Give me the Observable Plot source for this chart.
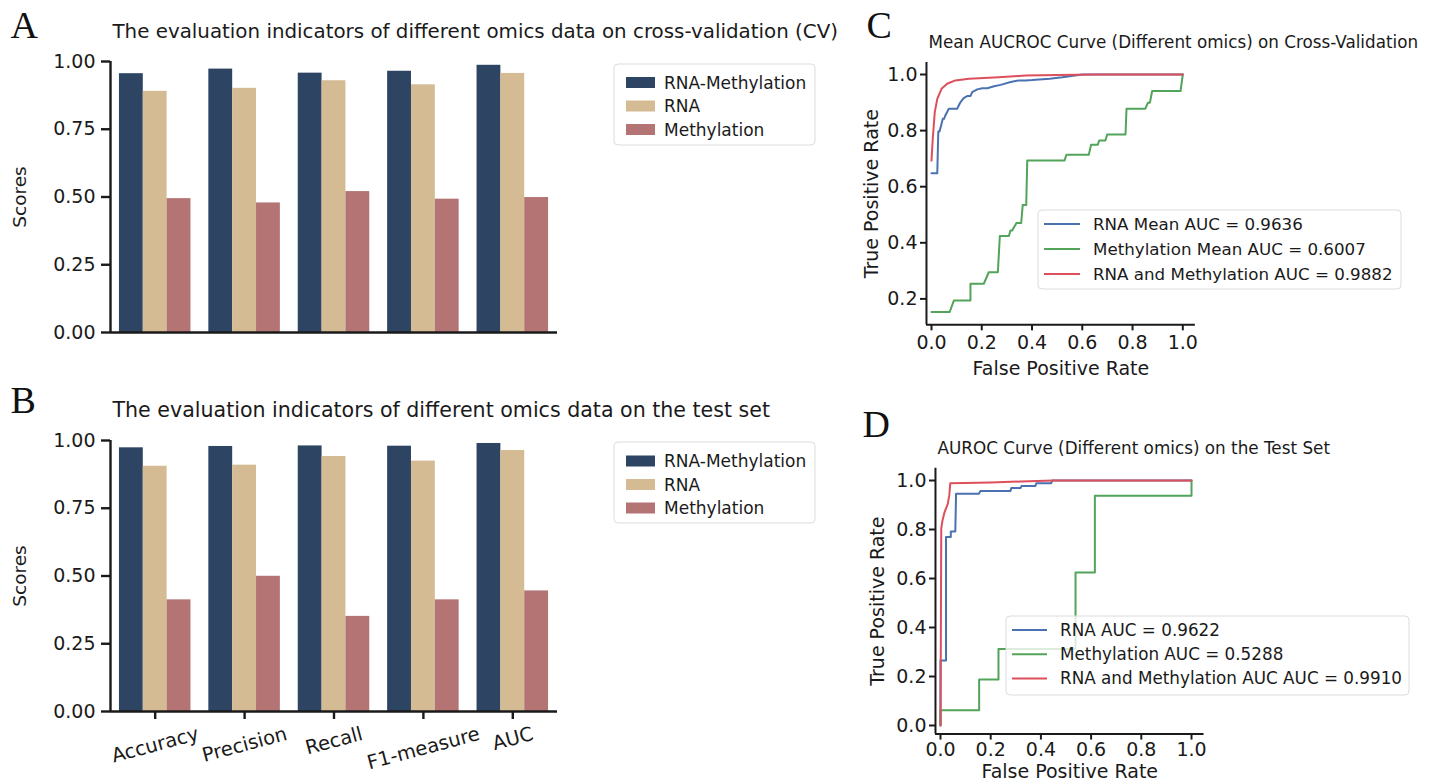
<!DOCTYPE html>
<html><head><meta charset="utf-8">
<script src="https://cdn.jsdelivr.net/npm/d3@7"></script>
<script src="https://cdn.jsdelivr.net/npm/@observablehq/plot@0.6"></script>
<style>
body{margin:0;background:#fff;}
#fig{position:relative;width:1433px;height:784px;overflow:hidden;background:#fff;font-family:"DejaVu Sans";}
#fig > svg{position:absolute;}
</style></head><body><div id="fig"></div>
<script>
// ---------- data ----------
const metrics = ["Accuracy", "Precision", "Recall", "F1-measure", "AUC"];
const seriesNames = ["RNA-Methylation", "RNA", "Methylation"];
const barColors = ["#2e4463", "#d4bb94", "#b47474"];
const cvRnaMeth = [0.955, 0.972, 0.957, 0.964, 0.986];
const cvRna = [0.890, 0.901, 0.929, 0.914, 0.956];
const cvMeth = [0.494, 0.478, 0.520, 0.492, 0.498];
const testRnaMeth = [0.973, 0.978, 0.980, 0.979, 0.989];
const testRna = [0.905, 0.909, 0.941, 0.924, 0.963];
const testMeth = [0.412, 0.499, 0.351, 0.412, 0.445];
const barTicks = [0, 0.25, 0.5, 0.75, 1.0];

const rocColors = ["#4a72b0", "#52a45a", "#dc4f5b"];
const cvRnaFpr = [0, 0.023, 0.027, 0.032, 0.040, 0.045, 0.050, 0.055, 0.069, 0.102, 0.115, 0.128, 0.142, 0.155, 0.162, 0.182, 0.202, 0.222, 0.249, 0.275, 0.315, 0.348, 0.375, 0.40, 0.47, 0.52, 0.60, 1.0];
const cvRnaTpr = [0.648, 0.648, 0.797, 0.797, 0.824, 0.842, 0.842, 0.854, 0.878, 0.878, 0.901, 0.916, 0.923, 0.923, 0.937, 0.947, 0.951, 0.951, 0.958, 0.963, 0.973, 0.979, 0.979, 0.980, 0.985, 0.990, 1.0, 1.0];
const cvMethFpr = [0, 0.072, 0.089, 0.155, 0.155, 0.208, 0.228, 0.264, 0.272, 0.308, 0.314, 0.321, 0.338, 0.357, 0.363, 0.377, 0.381, 0.529, 0.537, 0.626, 0.635, 0.662, 0.667, 0.692, 0.699, 0.772, 0.776, 0.851, 0.861, 0.869, 0.878, 0.991, 1.0];
const cvMethTpr = [0.153, 0.153, 0.194, 0.194, 0.254, 0.254, 0.295, 0.295, 0.424, 0.424, 0.444, 0.444, 0.471, 0.471, 0.535, 0.535, 0.693, 0.693, 0.714, 0.714, 0.750, 0.750, 0.765, 0.765, 0.786, 0.786, 0.878, 0.878, 0.899, 0.899, 0.941, 0.941, 1.0];
const cvBothFpr = [0, 0.005, 0.013, 0.023, 0.040, 0.062, 0.095, 0.149, 0.268, 0.374, 0.50, 0.65, 1.0];
const cvBothTpr = [0.693, 0.771, 0.866, 0.913, 0.949, 0.967, 0.979, 0.985, 0.990, 0.996, 0.998, 1.0, 1.0];

const testRnaFpr = [0, 0, 0.022, 0.022, 0.041, 0.041, 0.059, 0.062, 0.153, 0.159, 0.279, 0.282, 0.319, 0.323, 0.378, 0.382, 0.441, 0.445, 1.0];
const testRnaTpr = [0, 0.265, 0.265, 0.769, 0.769, 0.792, 0.792, 0.946, 0.946, 0.957, 0.957, 0.969, 0.969, 0.978, 0.978, 0.989, 0.989, 1.0, 1.0];
const testMethFpr = [0, 0, 0.154, 0.154, 0.231, 0.231, 0.538, 0.538, 0.615, 0.615, 1.0, 1.0];
const testMethTpr = [0, 0.0625, 0.0625, 0.1875, 0.1875, 0.3125, 0.3125, 0.625, 0.625, 0.9375, 0.9375, 1.0];
const testBothFpr = [0, 0.003, 0.008, 0.016, 0.029, 0.035, 0.039, 0.20, 0.32, 0.45, 1.0];
const testBothTpr = [0, 0.804, 0.837, 0.870, 0.905, 0.939, 0.989, 0.992, 0.996, 1.0, 1.0];

const rocXTicks = [0, 0.2, 0.4, 0.6, 0.8, 1.0];
const rocYTicksC = [0.2, 0.4, 0.6, 0.8, 1.0];
const rocYTicksD = [0, 0.2, 0.4, 0.6, 0.8, 1.0];
const legendC = ["RNA Mean AUC = 0.9636", "Methylation Mean AUC = 0.6007", "RNA and Methylation AUC = 0.9882"];
const legendD = ["RNA AUC = 0.9622", "Methylation AUC = 0.5288", "RNA and Methylation AUC AUC = 0.9910"];
const titleA = "The evaluation indicators of different omics data on cross-validation (CV)";
const titleB = "The evaluation indicators of different omics data on the test set";
const titleC = "Mean AUCROC Curve (Different omics) on Cross-Validation";
const titleD = "AUROC Curve (Different omics) on the Test Set";

// ---------- helpers ----------
const FONT = "DejaVu Sans";
const INK = "#1a1a1a";
const ctx = document.createElement("canvas").getContext("2d");
function textWidth(t, fs) { ctx.font = `${fs}px "${FONT}"`; return ctx.measureText(t).width; }
function fitSize(t, w) { return 100 * w / textWidth(t, 100); }
const fig = document.getElementById("fig");
function place(el, left, top) { el.style.left = left + "px"; el.style.top = top + "px"; fig.appendChild(el); }
const baseStyle = {fontFamily: FONT, fontSize: "19px", color: INK, background: "transparent", overflow: "visible"};

function barPanel(vals, o) {
  const rows = metrics.flatMap((m, i) => seriesNames.map((s, j) => ({
    metric: m, series: s, value: vals[j][i],
    x1: i - 0.4 + j * 0.8 / 3, x2: i - 0.4 + (j + 1) * 0.8 / 3
  })));
  const marks = [
    Plot.rectY(rows, {x1: "x1", x2: "x2", y1: 0, y2: "value", fill: "series"}),
    Plot.axisY(barTicks, {tickSize: 9, tickPadding: 6, strokeWidth: 2.4, stroke: INK, fill: INK, tickFormat: d3.format(".2f"), fontSize: 19, label: null}),
    Plot.ruleX([-0.5], {stroke: INK, strokeWidth: 2.4}),
    Plot.ruleY([0], {stroke: INK, strokeWidth: 2.4}),
    Plot.text(["Scores"], {frameAnchor: "left", textAnchor: "middle", lineAnchor: "middle", dx: -90, rotate: -90, fontSize: 18.5, fill: INK}),
    Plot.text([o.title], {frameAnchor: "top-left", textAnchor: "start", lineAnchor: "middle", dx: 2, dy: o.titleDy, fontSize: fitSize(o.title, o.titleW), fill: INK}),
    Plot.text([o.letter], {frameAnchor: "top-left", textAnchor: "start", lineAnchor: "middle", dx: -100, dy: o.letterDy, fontSize: 38, fontFamily: "Liberation Serif", fill: "#111"})
  ];
  if (o.showX) {
    marks.push(Plot.axisX(d3.range(metrics.length), {tickSize: 8, strokeWidth: 2.4, stroke: INK, tickFormat: () => "", label: null}));
    const fs = 19.5;
    metrics.forEach((m, i) => {
      const w = textWidth(m, fs);
      const h = 1.164 * fs;
      const off = 11 + (w * Math.sin(Math.PI / 12) + h * Math.cos(Math.PI / 12)) / 2;
      marks.push(Plot.text([m], {x: [i], y: [0], rotate: -15, dy: off, textAnchor: "middle", lineAnchor: "middle", fontSize: fs, fill: INK}));
    });
  }
  return Plot.plot({
    width: o.width, height: o.height,
    marginLeft: 110, marginRight: o.width - 557, marginTop: o.top, marginBottom: o.height - o.bottom,
    x: {domain: [-0.5, 4.5], axis: null},
    y: {domain: [0, 1], axis: null},
    color: {domain: seriesNames, range: barColors},
    style: baseStyle,
    marks
  });
}

function rocPanel(curves, o) {
  const marks = [
    ...curves.map((c, k) => Plot.line(d3.zip(c[0], c[1]), {x: d => d[0], y: d => d[1], stroke: rocColors[k], strokeWidth: 2})),
    Plot.axisX(rocXTicks, {tickSize: 6, tickPadding: o.xPad, strokeWidth: 2, stroke: INK, fill: INK, tickFormat: d3.format(".1f"), fontSize: 19, label: null}),
    Plot.axisY(o.yTicks, {tickSize: 6, tickPadding: 3, strokeWidth: 2, stroke: INK, fill: INK, tickFormat: d3.format(".1f"), fontSize: 19, label: null}),
    Plot.ruleX([o.xDomain[0]], {stroke: INK, strokeWidth: 2}),
    Plot.ruleY([o.yDomain[0]], {stroke: INK, strokeWidth: 2}),
    Plot.text(["False Positive Rate"], {frameAnchor: "bottom", textAnchor: "middle", dy: o.xLabelDy, lineAnchor: "middle", fontSize: 19, fill: INK}),
    Plot.text(["True Positive Rate"], {frameAnchor: "left", textAnchor: "middle", dx: o.yLabelDx, rotate: -90, lineAnchor: "middle", fontSize: 19, fill: INK}),
    Plot.text([o.title], {frameAnchor: "top-left", textAnchor: "start", lineAnchor: "middle", dx: 2, dy: o.titleDy, fontSize: fitSize(o.title, o.titleW), fill: INK}),
    Plot.text([o.letter], {frameAnchor: "top-left", textAnchor: "start", lineAnchor: "middle", dx: o.letterDx, dy: o.letterDy, fontSize: 38, fontFamily: "Liberation Serif", fill: "#111"})
  ];
  return Plot.plot({
    width: o.width, height: o.height,
    marginLeft: o.ml, marginRight: o.mr, marginTop: o.mt, marginBottom: o.mb,
    x: {domain: o.xDomain, axis: null},
    y: {domain: o.yDomain, axis: null},
    style: baseStyle,
    marks
  });
}

// ---------- panels ----------
place(barPanel([cvRnaMeth, cvRna, cvMeth], {width: 860, height: 375, top: 61, bottom: 332, title: titleA, titleW: 726, titleDy: -30, letter: "A", letterDy: -36, showX: false}), 0, 0);
place(barPanel([testRnaMeth, testRna, testMeth], {width: 860, height: 409, top: 65, bottom: 336, title: titleB, titleW: 658, titleDy: -30, letter: "B", letterDy: -40, showX: true}), 0, 375);

// C: x 0->931, 1->1182.3 ; y 1.0->74, 0.2->298.3
const xDomC = [-0.02, 1.05], yDomC = [0.1075, 1.0425];
const kxC = 251.3, kyC = 280.5;
const mlC = (931 - 860) + xDomC[0] * kxC, mrC = 573 - ((931 - 860) + xDomC[1] * kxC);
const mtC = 74 - (yDomC[1] - 1) * kyC, mbC = 390 - (74 + (1 - yDomC[0]) * kyC);
place(rocPanel([[cvRnaFpr, cvRnaTpr], [cvMethFpr, cvMethTpr], [cvBothFpr, cvBothTpr]], {
  width: 573, height: 390, ml: mlC, mr: mrC, mt: mtC, mb: mbC, xDomain: xDomC, yDomain: yDomC, yTicks: rocYTicksC, xPad: 5,
  xLabelDy: 44, yLabelDx: -55, title: titleC, titleW: 490, titleDy: -20, letter: "C", letterDx: -60, letterDy: -37
}), 860, 0);

// D: x 0->940, 1->1191 ; y 1.0->480, 0->725
const xDomD = [-0.02, 1.05], yDomD = [-0.035, 1.05];
const kxD = 251, kyD = 245;
const mlD = (940 - 860) + xDomD[0] * kxD, mrD = 573 - ((940 - 860) + xDomD[1] * kxD);
const mtD = (480 - 390) - (yDomD[1] - 1) * kyD, mbD = 394 - ((480 - 390) + (1 - yDomD[0]) * kyD);
place(rocPanel([[testRnaFpr, testRnaTpr], [testMethFpr, testMethTpr], [testBothFpr, testBothTpr]], {
  width: 573, height: 394, ml: mlD, mr: mrD, mt: mtD, mb: mbD, xDomain: xDomD, yDomain: yDomD, yTicks: rocYTicksD, xPad: 2,
  xLabelDy: 38, yLabelDx: -58, title: titleD, titleW: 393, titleDy: -20, letter: "D", letterDx: -73, letterDy: -43
}), 860, 390);

// ---------- legends (overlay) ----------
const ov = d3.create("svg").attr("width", 1433).attr("height", 784).style("left", "0px").style("top", "0px")
  .style("font-family", FONT);
function legend(o) {
  const g = ov.append("g");
  g.append("rect").attr("x", o.box[0]).attr("y", o.box[1]).attr("width", o.box[2] - o.box[0]).attr("height", o.box[3] - o.box[1])
    .attr("rx", 4).attr("fill", "rgba(255,255,255,0.8)").attr("stroke", "#dcdcdc").attr("stroke-width", 1);
  o.labels.forEach((t, k) => {
    const cy = o.firstRow + k * o.rowStep;
    if (o.patch) {
      g.append("rect").attr("x", o.sw[0]).attr("y", cy - o.patch / 2).attr("width", o.sw[1] - o.sw[0]).attr("height", o.patch).attr("fill", o.colors[k]);
    } else {
      g.append("line").attr("x1", o.sw[0]).attr("x2", o.sw[1]).attr("y1", cy).attr("y2", cy).attr("stroke", o.colors[k]).attr("stroke-width", 2);
    }
    g.append("text").attr("x", o.labelX).attr("y", cy + 0.36 * o.fs).attr("font-size", o.fs).attr("fill", INK).text(t);
  });
}
legend({box: [614, 64, 815, 145], labels: seriesNames, colors: barColors, patch: 11, sw: [626, 655], labelX: 664, firstRow: 82.5, rowStep: 23.5, fs: 17});
legend({box: [614, 442, 815, 523], labels: seriesNames, colors: barColors, patch: 11, sw: [626, 655], labelX: 664, firstRow: 461, rowStep: 23.5, fs: 17});
legend({box: [1038, 210, 1401, 289], labels: legendC, colors: rocColors, sw: [1044, 1080], labelX: 1093, firstRow: 224, rowStep: 25, fs: 16.7});
legend({box: [1006, 616, 1409, 695], labels: legendD, colors: rocColors, sw: [1012, 1047], labelX: 1060, firstRow: 630, rowStep: 24.2, fs: 16.8});
fig.appendChild(ov.node());
</script></body></html>
